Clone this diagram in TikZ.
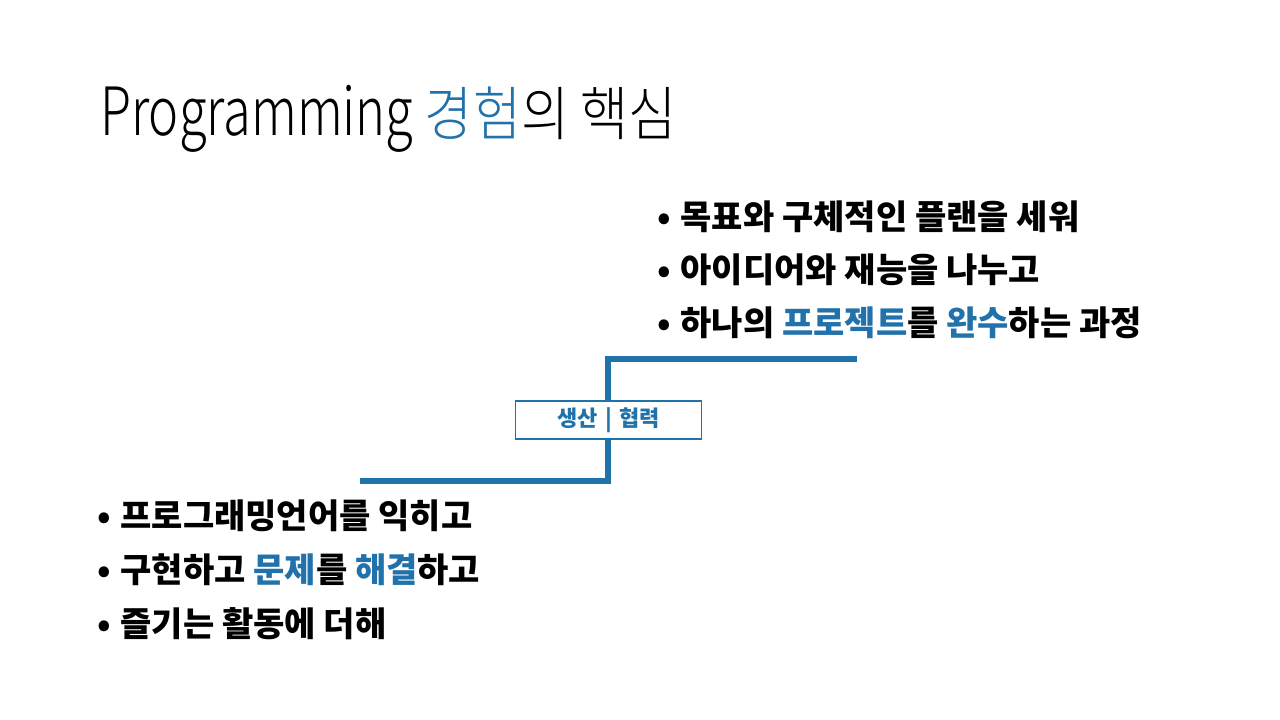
\documentclass[tikz,border=0pt]{standalone}
\usepackage{fontspec}
\setmainfont{Noto Sans CJK KR}
\newfontfamily\titlefont[UprightFont=* Light, FakeStretch=0.89]{Noto Sans CJK KR}
\newfontfamily\titlelatin[UprightFont=* Light, FakeStretch=0.76]{Noto Sans CJK KR}
\usepackage{xcolor}
\usetikzlibrary{positioning}

\definecolor{stepblue}{RGB}{33,113,171}
\newcommand{\hl}[1]{\textcolor{stepblue}{#1}}
\newcommand{\bul}{\makebox[17.5pt][l]{•}}
\tikzset{
  bulletline/.style={anchor=base west, inner sep=0pt,
    font=\fontsize{25.5}{29}\selectfont\bfseries},
  stairline/.style={stepblue, line width=4.5pt, line join=miter},
  tagbox/.style={draw=stepblue, line width=0.8pt, fill=white,
    minimum width=140pt, minimum height=28.5pt, inner sep=0pt,
    text=stepblue, font=\fontsize{16.5}{18}\selectfont\bfseries}
}

\begin{document}
\begin{tikzpicture}[x=0.75pt, y=-0.75pt]
  \useasboundingbox (0,0) rectangle (1280,720);
  % title
  \node[anchor=base west, inner sep=0pt, font=\titlefont\fontsize{44}{50}\selectfont]
    (title) at (100,136) {{\titlelatin\fontsize{50}{56}\selectfont Programming} \hl{경험}의 핵심};
  % stair: low step, riser, high step
  \coordinate (lowstart) at (360,481);
  \coordinate (lowcorner) at (608,481);
  \coordinate (highcorner) at (608,359);
  \coordinate (highend) at (857,359);
  \draw[stairline] (lowstart) -- (lowcorner) -- (highcorner) -- (highend);
  \node[tagbox] (tag) at (608.5,420) {생산\,\,|\,\,협력};
  % upper list
  \node[bulletline] (up1) at (657,229) {\bul 목표와 구체적인 플랜을 세워};
  \node[bulletline] (up2) at (657,282) {\bul 아이디어와 재능을 나누고};
  \node[bulletline] (up3) at (657,335) {\bul 하나의 \hl{프로젝트}를 \hl{완수}하는 과정};
  % lower list
  \node[bulletline] (low1) at (97,528) {\bul 프로그래밍언어를 익히고};
  \node[bulletline] (low2) at (97,582) {\bul 구현하고 \hl{문제}를 \hl{해결}하고};
  \node[bulletline] (low3) at (97,636) {\bul 즐기는 활동에 더해};
\end{tikzpicture}
\end{document}
